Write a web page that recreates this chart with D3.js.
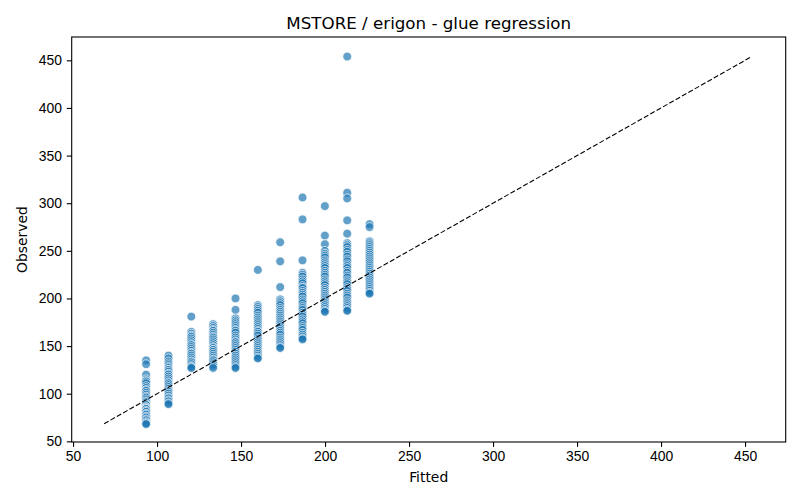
<!DOCTYPE html>
<html>
<head>
<meta charset="utf-8">
<script src="https://cdn.jsdelivr.net/npm/d3@7"></script>
<style>
  body { margin: 0; background: #fff; }
  svg { font-family: "DejaVu Sans", sans-serif; }
  .tick text { font-size: 13.9px; fill: #000; }
  .tick line { stroke: #000; stroke-width: 1.1; }
</style>
</head>
<body>
<div id="chart"></div>
<script>
// fitted value of each group (x position of each column)
const fitted = [93.5, 106.8, 120.4, 133.4, 146.7, 160.0, 173.3, 186.6, 199.9, 213.2, 226.5];

const observed = [
  [135, 131, 120, 115, 113, 113, 111, 108, 106, 104, 103, 101, 99, 97, 96, 94, 92, 91, 89, 88, 86, 85, 84, 84, 82, 81, 79, 78, 76, 75, 73, 72, 70, 69, 68],
  [140, 137, 134, 132, 130, 128, 127, 125, 125, 123, 121, 120, 118, 116, 114, 112, 111, 109, 107, 105, 103, 102, 100, 98, 96, 95, 93, 92, 90, 89],
  [181, 165, 163, 161, 160, 158, 156, 154, 152, 151, 149, 147, 145, 143, 142, 140, 138, 136, 134, 133, 131, 129, 128, 127],
  [173, 171, 169, 167, 166, 164, 162, 160, 159, 157, 155, 153, 151, 149, 148, 146, 146, 144, 142, 140, 138, 136, 135, 133, 131, 129, 127],
  [200, 188, 179, 177, 175, 173, 171, 169, 167, 166, 164, 161, 159, 157, 155, 154, 152, 150, 148, 146, 144, 142, 140, 138, 136, 134, 132, 130, 128, 127],
  [230, 193, 191, 189, 187, 185, 182, 180, 178, 176, 174, 172, 170, 168, 166, 165, 163, 161, 158, 156, 154, 152, 150, 148, 146, 144, 142, 140, 138, 137],
  [259, 239, 212, 199, 197, 195, 193, 190, 188, 186, 184, 182, 180, 178, 176, 174, 172, 170, 168, 166, 164, 162, 159, 157, 155, 153, 151, 149, 148],
  [306, 283, 240, 227, 225, 223, 220, 218, 216, 213, 211, 211, 208, 206, 204, 202, 199, 197, 195, 192, 190, 188, 185, 183, 181, 178, 176, 174, 171, 169, 167, 164, 162, 160, 158, 157],
  [297, 266, 257, 250, 247, 245, 243, 240, 238, 236, 234, 232, 229, 227, 225, 223, 220, 218, 216, 214, 211, 209, 207, 205, 203, 201, 199, 197, 195, 193, 191, 189, 187, 186],
  [454, 311, 305, 282, 268, 258, 256, 254, 251, 249, 246, 244, 241, 239, 236, 234, 232, 229, 227, 224, 222, 219, 217, 215, 212, 210, 208, 205, 203, 201, 198, 196, 194, 192, 190, 188, 187],
  [278, 275, 260, 258, 256, 254, 252, 250, 248, 246, 244, 242, 240, 238, 236, 234, 232, 230, 228, 226, 224, 222, 220, 218, 216, 214, 212, 210, 208, 206, 205]
];

// identity line end points
const lineEnds = [68.5, 454];
const ticks = [50, 100, 150, 200, 250, 300, 350, 400, 450];

const width = 800, height = 500;
const margin = { top: 37, right: 14.3, bottom: 58, left: 71.7 };
const innerW = width - margin.left - margin.right;
const innerH = height - margin.top - margin.bottom;

const points = fitted.flatMap((f, i) => observed[i].map((o) => ({ x: f, y: o })));

const x = d3.scaleLinear().domain([49.2, 474.2]).range([0, innerW]);
const y = d3.scaleLinear().domain([49.3, 474.5]).range([innerH, 0]);

const svg = d3.select("#chart").append("svg")
  .attr("width", width)
  .attr("height", height);

const g = svg.append("g").attr("transform", `translate(${margin.left},${margin.top})`);

// scatter
g.append("g")
  .selectAll("circle")
  .data(points)
  .join("circle")
  .attr("cx", (d) => x(d.x))
  .attr("cy", (d) => y(d.y))
  .attr("r", 4.4)
  .attr("fill", "#1f77b4")
  .attr("fill-opacity", 0.7)
  .attr("stroke", "#fff")
  .attr("stroke-width", 0.7);

// y = x line
g.append("line")
  .attr("x1", x(lineEnds[0]))
  .attr("y1", y(lineEnds[0]))
  .attr("x2", x(lineEnds[1]))
  .attr("y2", y(lineEnds[1]))
  .attr("stroke", "#000")
  .attr("stroke-width", 1.1)
  .attr("stroke-dasharray", "5.1,2.2");

// axes
g.append("g")
  .attr("transform", `translate(0,${innerH})`)
  .call(d3.axisBottom(x).tickValues(ticks).tickSize(4.9).tickPadding(4.2).tickSizeOuter(0))
  .call((a) => a.select(".domain").remove());

g.append("g")
  .call(d3.axisLeft(y).tickValues(ticks).tickSize(4.9).tickPadding(4.9).tickSizeOuter(0))
  .call((a) => a.select(".domain").remove());

g.append("rect")
  .attr("width", innerW)
  .attr("height", innerH)
  .attr("fill", "none")
  .attr("stroke", "#000")
  .attr("stroke-width", 1.1);

// labels
svg.append("text")
  .attr("x", margin.left + innerW / 2)
  .attr("y", 29)
  .attr("text-anchor", "middle")
  .attr("font-size", 16.7)
  .text("MSTORE / erigon - glue regression");

svg.append("text")
  .attr("x", margin.left + innerW / 2)
  .attr("y", 482)
  .attr("text-anchor", "middle")
  .attr("font-size", 13.9)
  .text("Fitted");

svg.append("text")
  .attr("transform", `translate(27,${margin.top + innerH / 2}) rotate(-90)`)
  .attr("text-anchor", "middle")
  .attr("font-size", 13.9)
  .text("Observed");
</script>
</body>
</html>
